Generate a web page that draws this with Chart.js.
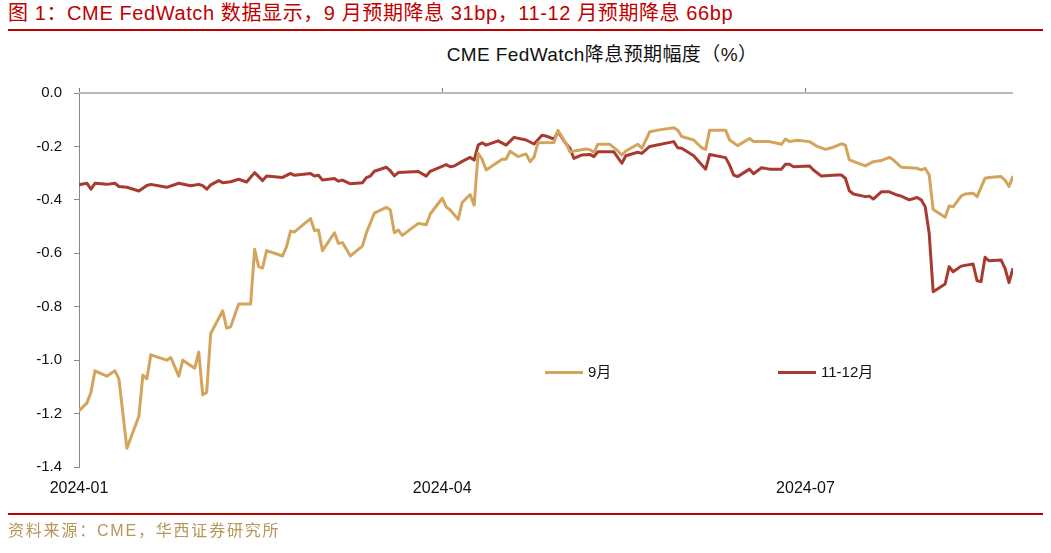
<!DOCTYPE html>
<html>
<head>
<meta charset="utf-8">
<script src="https://cdn.jsdelivr.net/npm/chart.js@4"></script>
<style>
  body { margin: 0; background: #fff; }
  #wrap { position: relative; width: 1051px; height: 553px; overflow: hidden;
          font-family: "Liberation Sans", Arial, "Noto Sans CJK SC", sans-serif; }
  #fig { position: absolute; left: 8px; top: 1px; font-size: 20px; letter-spacing: 0.6px; line-height: 24px; color: #C00000; white-space: nowrap; }
  .rule { position: absolute; left: 8px; width: 1035px; height: 2px; background: #C00000; }
  #title { position: absolute; left: 0; width: 1204px; top: 39px; text-align: center; font-size: 19px; letter-spacing: 0.4px; color: #111; }
  #src { position: absolute; left: 8px; top: 517px; font-size: 16px; letter-spacing: 1.8px; color: #B8955A; white-space: nowrap; }
  .leg { position: absolute; top: 360px; font-size: 15px; color: #111; white-space: nowrap; }
  .leg i { display: inline-block; width: 38px; height: 3px; vertical-align: middle; margin-right: 5px; position: relative; top: -1px; }
  canvas { position: absolute; left: 0; top: 0; }
</style>
</head>
<body>
<div id="wrap">
  <div id="fig">图 1：CME FedWatch 数据显示，9 月预期降息 31bp，11-12 月预期降息 66bp</div>
  <div class="rule" style="top:29px"></div>
  <div id="title">CME FedWatch降息预期幅度（%）</div>
  <canvas id="fedChart" width="1051" height="553"></canvas>
  <div class="leg" style="left:545px"><i style="background:#D4A45C"></i>9月</div>
  <div class="leg" style="left:778px"><i style="background:#A93A30"></i>11-12月</div>
  <div class="rule" style="top:513px"></div>
  <div id="src">资料来源：CME，华西证券研究所</div>
</div>
<script>
// days counted from 2024-01-01 (%)
const sepDays = [0, 2, 3, 4, 7, 9, 10, 12, 15, 16, 17, 18, 22, 23, 25, 26, 29, 30, 31, 32,
  33, 36, 37, 38, 40, 43, 44, 45, 46, 47, 51, 52, 53, 54, 58, 59, 60, 61, 64, 65,
  66, 68, 71, 72, 74, 77, 78, 79, 80, 81, 85, 87, 88, 91, 92, 93, 95, 96, 98, 99,
  100, 101, 102, 106, 107, 108, 110, 112, 113, 114, 115, 119, 120, 122, 123, 127, 128, 129, 130, 133,
  135, 136, 137, 140, 141, 143, 145, 149, 150, 151, 154, 156, 157, 158, 162, 163, 165, 168, 169, 173,
  176, 177, 178, 180, 183, 185, 187, 189, 191, 192, 193, 197, 199, 201, 203, 204, 206, 210, 211, 212,
  213, 214, 217, 218, 219, 221, 222, 224, 225, 227, 228, 231, 232, 233, 234];
const sepCut = [-1.19, -1.16, -1.12, -1.04, -1.06, -1.04, -1.07, -1.33, -1.21, -1.056, -1.07, -0.98, -1.00, -0.99, -1.06, -1.00, -1.03, -0.97, -1.13, -1.12,
  -0.90, -0.815, -0.88, -0.875, -0.79, -0.79, -0.585, -0.65, -0.655, -0.59, -0.61, -0.575, -0.517, -0.52, -0.47, -0.515, -0.513, -0.59, -0.523, -0.563,
  -0.56, -0.61, -0.573, -0.523, -0.45, -0.428, -0.438, -0.523, -0.513, -0.533, -0.488, -0.493, -0.453, -0.394, -0.426, -0.438, -0.473, -0.41, -0.38, -0.42,
  -0.226, -0.248, -0.288, -0.248, -0.248, -0.218, -0.238, -0.228, -0.257, -0.24, -0.186, -0.185, -0.14, -0.188, -0.22, -0.21, -0.212, -0.222, -0.192, -0.192,
  -0.217, -0.232, -0.217, -0.192, -0.207, -0.145, -0.139, -0.13, -0.139, -0.163, -0.176, -0.205, -0.211, -0.139, -0.139, -0.176, -0.197, -0.17, -0.182, -0.182,
  -0.192, -0.172, -0.182, -0.177, -0.182, -0.2, -0.211, -0.203, -0.19, -0.195, -0.25, -0.273, -0.257, -0.253, -0.241, -0.25, -0.278, -0.282, -0.288, -0.282,
  -0.307, -0.436, -0.465, -0.423, -0.426, -0.386, -0.378, -0.375, -0.388, -0.319, -0.316, -0.313, -0.326, -0.35, -0.311];

const novDecDays = [0, 2, 3, 4, 7, 9, 10, 12, 15, 17, 18, 22, 25, 28, 30, 31, 32, 33, 35, 36,
  38, 40, 42, 44, 46, 47, 51, 53, 54, 58, 59, 60, 61, 64, 65, 66, 68, 71, 72, 73,
  74, 77, 78, 79, 80, 85, 87, 88, 92, 93, 94, 96, 98, 99, 100, 101, 102, 105, 107, 109,
  112, 114, 116, 117, 119, 120, 122, 123, 124, 126, 128, 129, 130, 134, 136, 137, 140, 141, 143, 149,
  150, 151, 154, 157, 158, 162, 163, 164, 165, 168, 169, 171, 173, 176, 177, 178, 179, 183, 184, 186,
  190, 191, 192, 193, 194, 197, 198, 199, 201, 203, 205, 206, 208, 210, 211, 212, 213, 214, 217, 218,
  219, 221, 224, 225, 226, 227, 228, 231, 232, 233, 234];
const novDecCut = [-0.344, -0.338, -0.36, -0.338, -0.342, -0.338, -0.35, -0.353, -0.367, -0.346, -0.342, -0.353, -0.338, -0.347, -0.342, -0.347, -0.36, -0.344, -0.328, -0.336,
  -0.332, -0.323, -0.333, -0.298, -0.328, -0.311, -0.316, -0.301, -0.308, -0.301, -0.311, -0.308, -0.326, -0.32, -0.33, -0.326, -0.34, -0.336, -0.317, -0.311,
  -0.293, -0.278, -0.291, -0.31, -0.298, -0.294, -0.311, -0.293, -0.268, -0.276, -0.273, -0.256, -0.241, -0.251, -0.195, -0.186, -0.195, -0.179, -0.195, -0.166,
  -0.176, -0.191, -0.158, -0.161, -0.173, -0.145, -0.19, -0.207, -0.245, -0.232, -0.23, -0.238, -0.22, -0.22, -0.263, -0.235, -0.222, -0.226, -0.2, -0.182,
  -0.205, -0.207, -0.235, -0.285, -0.23, -0.242, -0.27, -0.307, -0.313, -0.285, -0.302, -0.28, -0.285, -0.285, -0.267, -0.267, -0.276, -0.273, -0.288, -0.311,
  -0.307, -0.307, -0.319, -0.366, -0.378, -0.388, -0.386, -0.397, -0.37, -0.37, -0.382, -0.386, -0.40, -0.391, -0.40, -0.426, -0.525, -0.744, -0.715, -0.65,
  -0.669, -0.648, -0.64, -0.703, -0.706, -0.615, -0.628, -0.625, -0.656, -0.71, -0.656];

const tickDays = [0, 91, 182];
const tickLabels = ['2024-01', '2024-04', '2024-07'];

function toPoints(days, vals) {
  return days.map((d, i) => ({ x: d, y: vals[i] }));
}

// zero line across the top plus the little date ticks on it
const zeroLine = {
  id: 'zeroLine',
  beforeDatasetsDraw(chart) {
    const { ctx, chartArea, scales } = chart;
    const y0 = scales.y.getPixelForValue(0);
    ctx.save();
    ctx.strokeStyle = '#b9b9b9';
    ctx.lineWidth = 2;
    ctx.beginPath();
    ctx.moveTo(chartArea.left, y0);
    ctx.lineTo(chartArea.right, y0);
    ctx.stroke();
    ctx.strokeStyle = '#777';
    ctx.lineWidth = 1;
    scales.x.ticks.forEach(t => {
      const px = Math.round(scales.x.getPixelForValue(t.value)) + 0.5;
      ctx.beginPath();
      ctx.moveTo(px, y0 - 1);
      ctx.lineTo(px, y0 - 5);
      ctx.stroke();
    });
    ctx.restore();
  }
};

const ctx = document.getElementById('fedChart').getContext('2d');
new Chart(ctx, {
  type: 'line',
  data: {
    datasets: [
      {
        label: '9月',
        data: toPoints(sepDays, sepCut),
        borderColor: '#D4A45C',
        borderWidth: 3,
        pointRadius: 0,
        tension: 0,
        borderJoinStyle: 'round',
      },
      {
        label: '11-12月',
        data: toPoints(novDecDays, novDecCut),
        borderColor: '#A93A30',
        borderWidth: 3,
        pointRadius: 0,
        tension: 0,
        borderJoinStyle: 'round',
      },
    ],
  },
  options: {
    responsive: false,
    animation: false,
    devicePixelRatio: 1,
    layout: { padding: { left: 0, top: 93, right: 38, bottom: 56 } },
    plugins: { legend: { display: false }, tooltip: { enabled: false } },
    scales: {
      x: {
        type: 'linear',
        min: 0,
        max: 234,
        grid: { display: false, drawTicks: false },
        border: { display: false },
        afterBuildTicks: scale => { scale.ticks = tickDays.map(v => ({ value: v })); },
        afterFit: scale => { scale.height = 30; },
        ticks: {
          padding: 12,
          maxRotation: 0,
          autoSkip: false,
          color: '#111',
          font: { family: 'Liberation Sans Narrow, Liberation Sans, Arial', size: 16 },
          callback: v => tickLabels[tickDays.indexOf(v)],
        },
      },
      y: {
        min: -1.4,
        max: 0,
        grid: { drawOnChartArea: false, tickLength: 5, color: '#888' },
        border: { display: true, color: '#888', width: 1 },
        afterFit: scale => { scale.width = 79; },
        ticks: {
          stepSize: 0.2,
          padding: 12,
          color: '#111',
          font: { family: 'Liberation Sans, Arial', size: 15 },
          callback: v => v.toFixed(1),
        },
      },
    },
  },
  plugins: [zeroLine],
});
</script>
</body>
</html>
